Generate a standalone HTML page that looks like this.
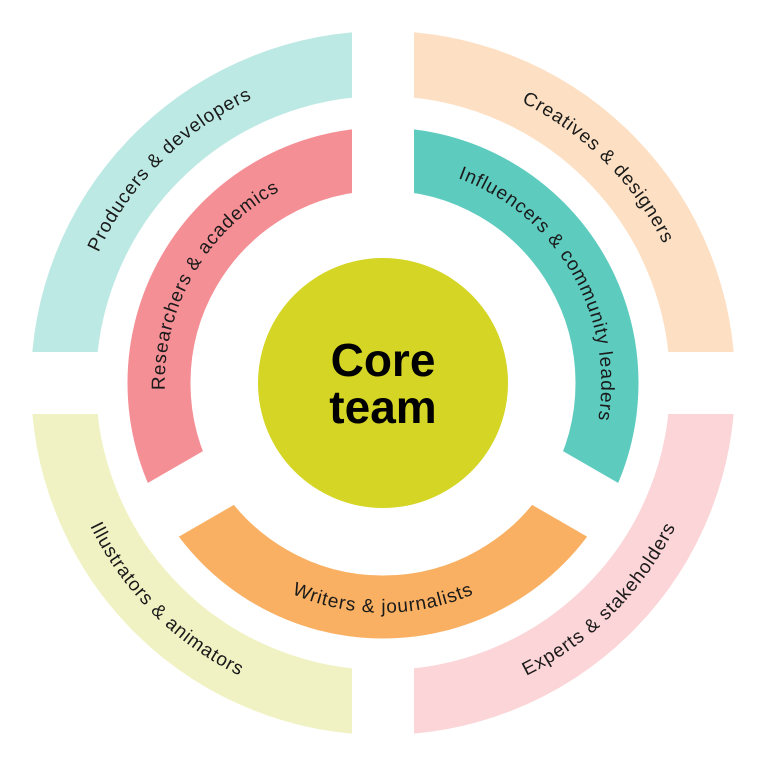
<!DOCTYPE html>
<html><head><meta charset="utf-8"><style>
html,body{margin:0;padding:0;background:#fff;}
svg{display:block;}
text{font-family:"Liberation Sans",sans-serif;fill:#1a1a1a;}
</style></head><body>
<svg width="769" height="770" viewBox="0 0 769 770" xmlns="http://www.w3.org/2000/svg">
<defs>
<clipPath id="tl"><rect x="0" y="0" width="383" height="383"/></clipPath>
<clipPath id="tr"><rect x="383" y="0" width="386" height="383"/></clipPath>
<clipPath id="bl"><rect x="0" y="383" width="383" height="387"/></clipPath>
<clipPath id="br"><rect x="383" y="383" width="386" height="387"/></clipPath>
<path id="pTL" d="M70,383 A313,313 0 0 1 383,70"/>
<path id="pTR" d="M383,70 A313,313 0 0 1 696,383"/>
<path id="pBR" d="M383,709 A326,326 0 0 0 709,383"/>
<path id="pBL" d="M57,383 A326,326 0 0 0 383,709"/>
<path id="pPink" d="M194,492 A218,218 0 0 1 383,165"/>
<path id="pTeal" d="M383,165 A218,218 0 0 1 572,492"/>
<path id="pOr" d="M184,498 A230,230 0 0 0 582,498"/>
</defs>
<g fill="none" stroke-width="65">
<circle cx="383" cy="383" r="319.5" stroke="#bde9e4" clip-path="url(#tl)"/>
<circle cx="383" cy="383" r="319.5" stroke="#fde0c3" clip-path="url(#tr)"/>
<circle cx="383" cy="383" r="319.5" stroke="#f1f2c3" clip-path="url(#bl)"/>
<circle cx="383" cy="383" r="319.5" stroke="#fbd5d7" clip-path="url(#br)"/>
</g>
<rect x="352" y="0" width="62" height="770" fill="#fff"/>
<rect x="0" y="352" width="769" height="62" fill="#fff"/>
<g fill="none" stroke-width="63">
<path d="M189,495 A224,224 0 0 1 383,159" stroke="#f58f96"/>
<path d="M383,159 A224,224 0 0 1 577,495" stroke="#5ecbbf"/>
<path d="M189,495 A224,224 0 0 0 577,495" stroke="#f9b062"/>
</g>
<g fill="#fff">
<rect x="352" y="100" width="62" height="283"/>
<rect x="-31" y="0" width="62" height="270" transform="translate(383,383) rotate(60)"/>
<rect x="-31" y="0" width="62" height="270" transform="translate(383,383) rotate(-60)"/>
</g>
<circle cx="383" cy="383" r="125" fill="#d4d524"/>
<text x="383" y="376" text-anchor="middle" font-size="46" font-weight="bold" style="fill:#000">Core</text>
<text x="383" y="423" text-anchor="middle" font-size="46" font-weight="bold" style="fill:#000">team</text>
<g font-size="19" letter-spacing="0.9">
<text><textPath href="#pTL" startOffset="50%" text-anchor="middle">Producers &amp; developers</textPath></text>
<text><textPath href="#pTR" startOffset="50%" text-anchor="middle">Creatives &amp; designers</textPath></text>
<text><textPath href="#pBR" startOffset="50%" text-anchor="middle">Experts &amp; stakeholders</textPath></text>
<text><textPath href="#pBL" startOffset="50%" text-anchor="middle">Illustrators &amp; animators</textPath></text>
<text><textPath href="#pPink" startOffset="50%" text-anchor="middle">Researchers &amp; academics</textPath></text>
<text><textPath href="#pTeal" startOffset="50%" text-anchor="middle">Influencers &amp; community leaders</textPath></text>
<text><textPath href="#pOr" startOffset="50%" text-anchor="middle">Writers &amp; journalists</textPath></text>
</g>
</svg>
</body></html>
